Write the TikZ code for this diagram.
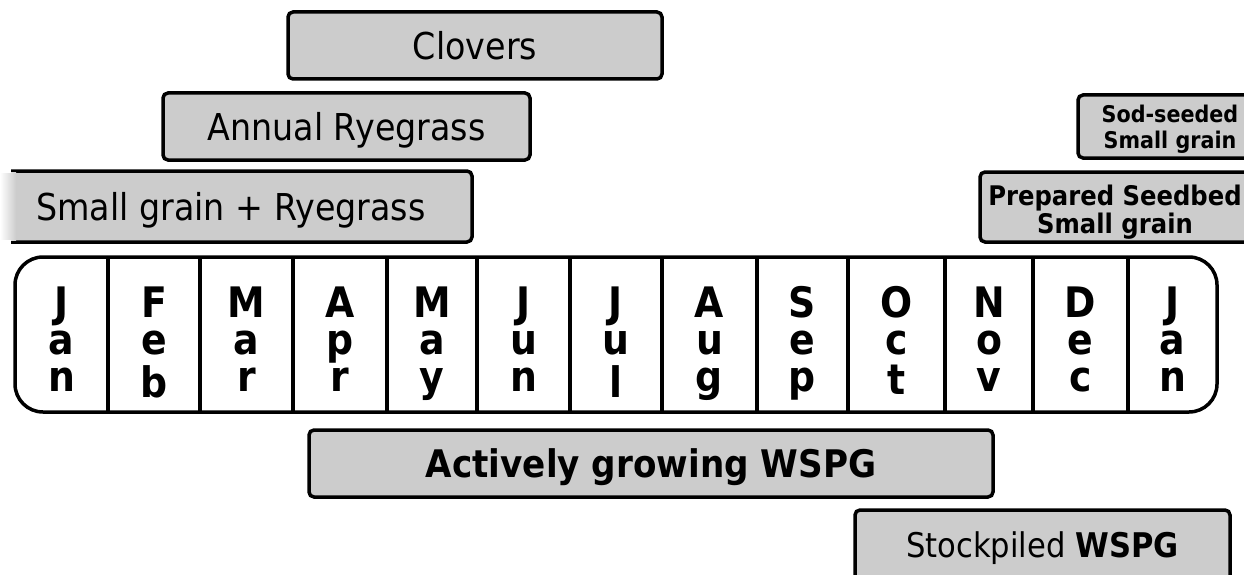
\documentclass[tikz,border=0pt]{standalone}
\usepackage{fontspec}
\newfontfamily\lbl{DejaVu Sans}[FakeStretch=0.9]
\definecolor{boxgray}{RGB}{204,204,204}
\tikzset{
  bar/.style={draw=black, fill=boxgray, line width=3.5pt, rounded corners=5pt,
    inner sep=0pt, text height=28pt, text depth=0pt,
    font=\lbl\fontsize{37}{40}\selectfont},
  twoline/.style={bar, font=\lbl\bfseries\fontsize{#1}{25}\selectfont},
  month/.style={anchor=base, inner sep=0pt, font=\lbl\bfseries\fontsize{42}{37}\selectfont},
  div/.style={line width=4pt, black},
}
\newcommand\stk[1]{\begin{tabular}[t]{@{}c@{}}#1\end{tabular}}
\begin{document}
\begin{tikzpicture}[x=1pt, y=-1pt]
\useasboundingbox (0,0) rectangle (1244,575);
\clip (0,0) rectangle (1244,575);
\fill[white] (0,0) rectangle (1244,575);

% top boxes
\node[bar, minimum width=374pt, minimum height=67pt] (clov) at (475,45.5) {Clovers};
\node[bar, minimum width=367pt, minimum height=67pt] (ann) at (346.5,126.5) {Annual Ryegrass};
\node[bar, minimum width=482pt, minimum height=71pt] (sgr) at (231,206.5) {Small grain + Ryegrass};
% left fade of the small grain box
\shade[left color=white, right color=boxgray] (0,172.8) rectangle (16,240.2);
\fill[white] (0,166) rectangle (11,172.8);
\fill[white] (0,240.2) rectangle (11,246);

\node[twoline=23, minimum width=184pt, minimum height=63pt, text height=17pt, text depth=24pt]
  (sod) at (1170,126.5) {\stk{Sod-seeded\\Small grain}};
\node[twoline=27, minimum width=270pt, minimum height=70pt, text height=20pt, text depth=24pt]
  (prep) at (1115,207) {\stk{Prepared Seedbed\\Small grain}};

% month bar
\node[draw=black, fill=white, line width=3.5pt, rounded corners=28pt, inner sep=0pt,
  minimum width=1202pt, minimum height=155pt] (mbar) at (616,334.5) {};
\foreach \x in {108,200,293,387,477,570,662,757,848,945,1033,1128}
  \draw[div] (\x,257) -- (\x,412);

\node[month] (m1)  at (61.5,317)  {\stk{J\\a\\n}};
\node[month] (m2)  at (154,317)   {\stk{F\\e\\b}};
\node[month] (m3)  at (246.5,317) {\stk{M\\a\\r}};
\node[month] (m4)  at (340,317)   {\stk{A\\p\\r}};
\node[month] (m5)  at (432,317)   {\stk{M\\a\\y}};
\node[month] (m6)  at (523.5,317) {\stk{J\\u\\n}};
\node[month] (m7)  at (616,317)   {\stk{J\\u\\l}};
\node[month] (m8)  at (709.5,317) {\stk{A\\u\\g}};
\node[month] (m9)  at (802.5,317) {\stk{S\\e\\p}};
\node[month] (m10) at (896.5,317) {\stk{O\\c\\t}};
\node[month] (m11) at (989,317)   {\stk{N\\o\\v}};
\node[month] (m12) at (1080.5,317){\stk{D\\e\\c}};
\node[month] (m13) at (1172.5,317){\stk{J\\a\\n}};

% bottom boxes
\node[bar, minimum width=684pt, minimum height=67pt, font=\lbl\bfseries\fontsize{38}{40}\selectfont]
  (act) at (651,463.5) {Actively growing WSPG};
\node[bar, minimum width=375pt, minimum height=90pt, text height=28pt, text depth=24pt,
  font=\lbl\fontsize{34}{40}\selectfont]
  (stock) at (1042.5,555) {Stockpiled \textbf{WSPG}};
\end{tikzpicture}
\end{document}
